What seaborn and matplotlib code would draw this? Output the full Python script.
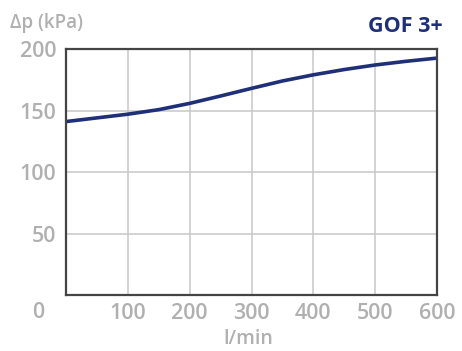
import pandas as pd
import matplotlib
matplotlib.use("Agg")
import matplotlib.pyplot as plt
import seaborn as sns

# flow rate (l/min) vs pressure drop (kPa)
flow = [0, 50, 100, 150, 200, 250, 300, 350, 400, 450, 500, 550, 600]
dp = [141, 144, 147, 150.7, 155.8, 161.8, 168, 174, 179, 183.3, 187, 190, 192.6]
x_ticks = [100, 200, 300, 400, 500, 600]
y_ticks = [50, 100, 150, 200]

sns.set_style("white")
plt.rcParams['font.family'] = ['Open Sans', 'DejaVu Sans']

gray = "#b0b0b0"
navy = "#1f2f78"

df = pd.DataFrame({"flow": flow, "dp": dp})

fig = plt.figure(figsize=(4.62, 3.51), dpi=100)
ax = fig.add_axes([0.1429, 0.1595, 0.803, 0.7009])
sns.lineplot(data=df, x="flow", y="dp", ax=ax, color=navy, linewidth=2.6)

ax.set_xlim(0, 600)
ax.set_ylim(0, 200)
ax.set_xticks(x_ticks)
ax.set_yticks(y_ticks)
ax.set_xlabel("")
ax.set_ylabel("")
ax.grid(True, color="#c8c8c8", linewidth=1.1)
ax.tick_params(length=0, labelsize=15.5, labelcolor=gray)
ax.tick_params(axis="x", pad=6)
ax.tick_params(axis="y", pad=7)
for lbl in ax.get_xticklabels() + ax.get_yticklabels():
    lbl.set_fontweight("semibold")
for sp in ax.spines.values():
    sp.set_visible(True)
    sp.set_color("#444444")
    sp.set_linewidth(1.6)

fig.text(38 / 462, 1 - 313 / 351, "0", color=gray, fontsize=15.5, fontweight="semibold",
         ha="center", va="center")
fig.text(248 / 462, 1 - 339 / 351, "l/min", color=gray, fontsize=14, fontweight="semibold",
         ha="center", va="center")
fig.text(10 / 462, 1 - 23 / 351, "Δp (kPa)", color=gray, fontsize=13.5, fontweight="semibold",
         ha="left", va="center")
fig.text(443 / 462, 1 - 26 / 351, "GOF 3+", color=navy, fontsize=15.5, fontweight="bold",
         ha="right", va="center")

fig.savefig("out.png", dpi=100)
